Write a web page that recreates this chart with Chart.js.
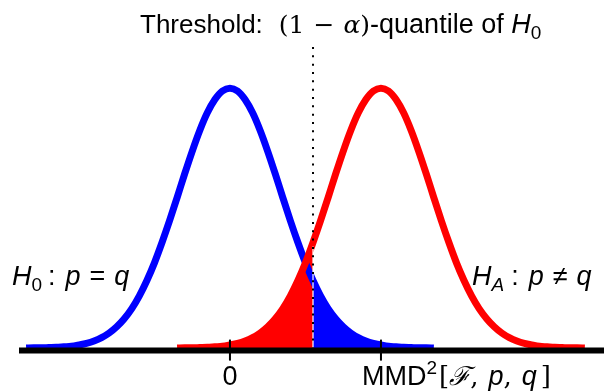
<!DOCTYPE html>
<html>
<head>
<meta charset="utf-8">
<script src="https://cdn.jsdelivr.net/npm/chart.js@4.4.1/dist/chart.umd.min.js"></script>
<style>
  html, body { margin: 0; padding: 0; background: #fff; }
  #wrap { width: 604px; height: 391px; position: relative; }
</style>
</head>
<body>
<div id="wrap"><canvas id="c"></canvas></div>
<script>
// x positions (0 = mean of H0, 1 = MMD^2)
const xGrid = [
  -1.35, -1.30, -1.25, -1.20, -1.15, -1.10, -1.05, -1.00, -0.95, -0.90,
  -0.85, -0.80, -0.75, -0.70, -0.65, -0.60, -0.55, -0.50, -0.45, -0.40,
  -0.35, -0.30, -0.25, -0.20, -0.15, -0.10, -0.05, 0.00, 0.05, 0.10,
  0.15, 0.20, 0.25, 0.30, 0.35, 0.40, 0.45, 0.50, 0.55, 0.60,
  0.65, 0.70, 0.75, 0.80, 0.85, 0.90, 0.95, 1.00, 1.05, 1.10,
  1.15, 1.20, 1.25, 1.30, 1.35, 1.40, 1.45, 1.50, 1.55, 1.60,
  1.65, 1.70, 1.75, 1.80, 1.85, 1.90, 1.95, 2.00, 2.05, 2.10,
  2.15, 2.20, 2.25, 2.30, 2.35
];

// H0 density (blue), height relative to its peak
const h0Density = [
  0, 0.001, 0.001, 0.002, 0.003, 0.005, 0.007, 0.012, 0.018, 0.027,
  0.040, 0.058, 0.082, 0.113, 0.152, 0.201, 0.260, 0.328, 0.406, 0.490,
  0.579, 0.670, 0.757, 0.837, 0.905, 0.956, 0.989, 1.000, 0.989, 0.956,
  0.905, 0.837, 0.757, 0.670, 0.579, 0.490, 0.406, 0.328, 0.260, 0.201,
  0.152, 0.113, 0.082, 0.058, 0.040, 0.027, 0.018, 0.012, 0.007, 0.005,
  0.003, 0.002, 0.001, 0.001, 0, null, null, null, null, null,
  null, null, null, null, null, null, null, null, null, null,
  null, null, null, null, null
];

// HA density (red)
const hADensity = [
  null, null, null, null, null, null, null, null, null, null,
  null, null, null, null, null, null, null, null, null, null,
  0, 0.001, 0.001, 0.002, 0.003, 0.005, 0.007, 0.012, 0.018, 0.027,
  0.040, 0.058, 0.082, 0.113, 0.152, 0.201, 0.260, 0.328, 0.406, 0.490,
  0.579, 0.670, 0.757, 0.837, 0.905, 0.956, 0.989, 1.000, 0.989, 0.956,
  0.905, 0.837, 0.757, 0.670, 0.579, 0.490, 0.406, 0.328, 0.260, 0.201,
  0.152, 0.113, 0.082, 0.058, 0.040, 0.027, 0.018, 0.012, 0.007, 0.005,
  0.003, 0.002, 0.001, 0.001, 0
];

const threshold = 0.55;
const tickValues = [0, 1];

const BLUE = "#0000ff";
const RED = "#ff0000";
const SANS = '"Liberation Sans", Arial, sans-serif';
const SERIF = '"DejaVu Serif", "Liberation Serif", serif';

const pts = (vals) => xGrid.map((x, i) => ({ x: x, y: vals[i] }));
const cut = (vals, keep) => xGrid.map((x, i) => ({ x: x, y: keep(x) ? vals[i] : null }));

// draw a line of mixed-font text runs; {gap: n} adds n px of space
function drawRuns(ctx, x, y, runs, align) {
  const w = (r) => {
    if (r.gap) return r.gap;
    ctx.font = r.f;
    return ctx.measureText(r.t).width;
  };
  let total = 0;
  runs.forEach((r) => { total += w(r); });
  let cx = align === "center" ? x - total / 2 : x;
  runs.forEach((r) => {
    if (!r.gap) {
      ctx.font = r.f;
      ctx.fillText(r.t, cx, y + (r.dy || 0));
    }
    cx += w(r);
  });
}

const decor = {
  id: "decor",
  afterDatasetsDraw(chart) {
    const ctx = chart.ctx;
    const xs = chart.scales.x, ys = chart.scales.y;
    const area = chart.chartArea;
    const axisY = ys.getPixelForValue(0) + 2.5;
    const tx = xs.getPixelForValue(threshold);

    ctx.save();
    // thin white gap between the two fills
    const ti = xGrid.findIndex((x) => Math.abs(x - threshold) < 1e-9);
    const fillTop = ys.getPixelForValue(Math.max(h0Density[ti], hADensity[ti])) + 4;
    ctx.strokeStyle = "#fff";
    ctx.lineWidth = 1.2;
    ctx.beginPath();
    ctx.moveTo(tx, fillTop);
    ctx.lineTo(tx, axisY);
    ctx.stroke();

    // axis
    ctx.strokeStyle = "#000";
    ctx.lineWidth = 6;
    ctx.beginPath();
    ctx.moveTo(area.left, axisY);
    ctx.lineTo(area.right, axisY);
    ctx.stroke();

    // ticks
    ctx.lineWidth = 2;
    tickValues.forEach((v) => {
      const px = xs.getPixelForValue(v);
      ctx.beginPath();
      ctx.moveTo(px, axisY - 11);
      ctx.lineTo(px, axisY + 10);
      ctx.stroke();
    });

    // dotted threshold line
    ctx.setLineDash([2, 6.33]);
    ctx.lineWidth = 2;
    ctx.beginPath();
    ctx.moveTo(tx, 47);
    ctx.lineTo(tx, axisY - 3);
    ctx.stroke();
    ctx.setLineDash([]);

    // text
    ctx.fillStyle = "#000";
    ctx.textBaseline = "alphabetic";
    ctx.textAlign = "left";
    const f = (s, st) => `${st || ""} ${s}px ${SANS}`;
    const fs = (s, st) => `${st || ""} ${s}px ${SERIF}`;

    drawRuns(ctx, 140, 33, [
      { t: "Threshold:", f: f(26) },
      { gap: 16 },
      { t: "(1", f: fs(25) },
      { gap: 9 },
      { t: "−", f: fs(25) },
      { gap: 9 },
      { t: "α", f: fs(25, "italic") },
      { t: ")", f: fs(25) },
      { t: "-quantile of ", f: f(27) },
      { t: "H", f: f(27, "italic") },
      { t: "0", f: f(19), dy: 6 }
    ]);

    drawRuns(ctx, 12, 285, [
      { t: "H", f: f(27, "italic") },
      { t: "0", f: f(19), dy: 6 },
      { gap: 6 },
      { t: ":", f: f(27) },
      { gap: 10 },
      { t: "p", f: f(27, "italic") },
      { gap: 9 },
      { t: "=", f: f(27) },
      { gap: 9 },
      { t: "q", f: f(27, "italic") }
    ]);

    drawRuns(ctx, 472, 285, [
      { t: "H", f: f(27, "italic") },
      { t: "A", f: f(19, "italic"), dy: 6 },
      { gap: 7 },
      { t: ":", f: f(27) },
      { gap: 10 },
      { t: "p", f: f(27, "italic") },
      { gap: 9 },
      { t: "≠", f: f(27) },
      { gap: 9 },
      { t: "q", f: f(27, "italic") }
    ]);

    drawRuns(ctx, xs.getPixelForValue(tickValues[0]), 385, [
      { t: "0", f: f(27) }
    ], "center");

    drawRuns(ctx, 362, 385, [
      { t: "MMD", f: f(27) },
      { t: "2", f: f(19), dy: -11 },
      { gap: 2 },
      { t: "[", f: fs(26) },
      { t: "ℱ", f: fs(26, "italic") },
      { t: ",", f: fs(26) },
      { gap: 10 },
      { t: "p", f: f(27, "italic") },
      { t: ",", f: fs(26) },
      { gap: 10 },
      { t: "q", f: f(27, "italic") },
      { gap: 4 },
      { t: "]", f: fs(26) }
    ]);
    ctx.restore();
  }
};

new Chart(document.getElementById("c"), {
  type: "line",
  data: {
    datasets: [
      {
        label: "HA",
        data: pts(hADensity),
        borderColor: RED,
        borderWidth: 7,
        pointRadius: 0,
        fill: false,
        cubicInterpolationMode: "monotone",
        order: 0
      },
      {
        label: "H0",
        data: pts(h0Density),
        borderColor: BLUE,
        borderWidth: 7,
        pointRadius: 0,
        fill: false,
        cubicInterpolationMode: "monotone",
        order: 1
      },
      {
        label: "HA below threshold",
        data: cut(hADensity, (x) => x <= threshold + 1e-9),
        borderWidth: 0,
        borderColor: "rgba(0,0,0,0)",
        backgroundColor: RED,
        pointRadius: 0,
        fill: "origin",
        cubicInterpolationMode: "monotone",
        order: 2
      },
      {
        label: "H0 above threshold",
        data: cut(h0Density, (x) => x >= threshold - 1e-9),
        borderWidth: 0,
        borderColor: "rgba(0,0,0,0)",
        backgroundColor: BLUE,
        pointRadius: 0,
        fill: "origin",
        cubicInterpolationMode: "monotone",
        order: 3
      }
    ]
  },
  options: {
    responsive: true,
    maintainAspectRatio: false,
    animation: false,
    events: [],
    layout: { padding: { left: 19, right: 0, top: 0, bottom: 0 } },
    plugins: { legend: { display: false }, tooltip: { enabled: false } },
    scales: {
      x: { type: "linear", display: false, min: -1.397, max: 2.477 },
      y: { display: false, min: -0.165, max: 1.339 }
    }
  },
  plugins: [decor]
});
</script>
</body>
</html>
